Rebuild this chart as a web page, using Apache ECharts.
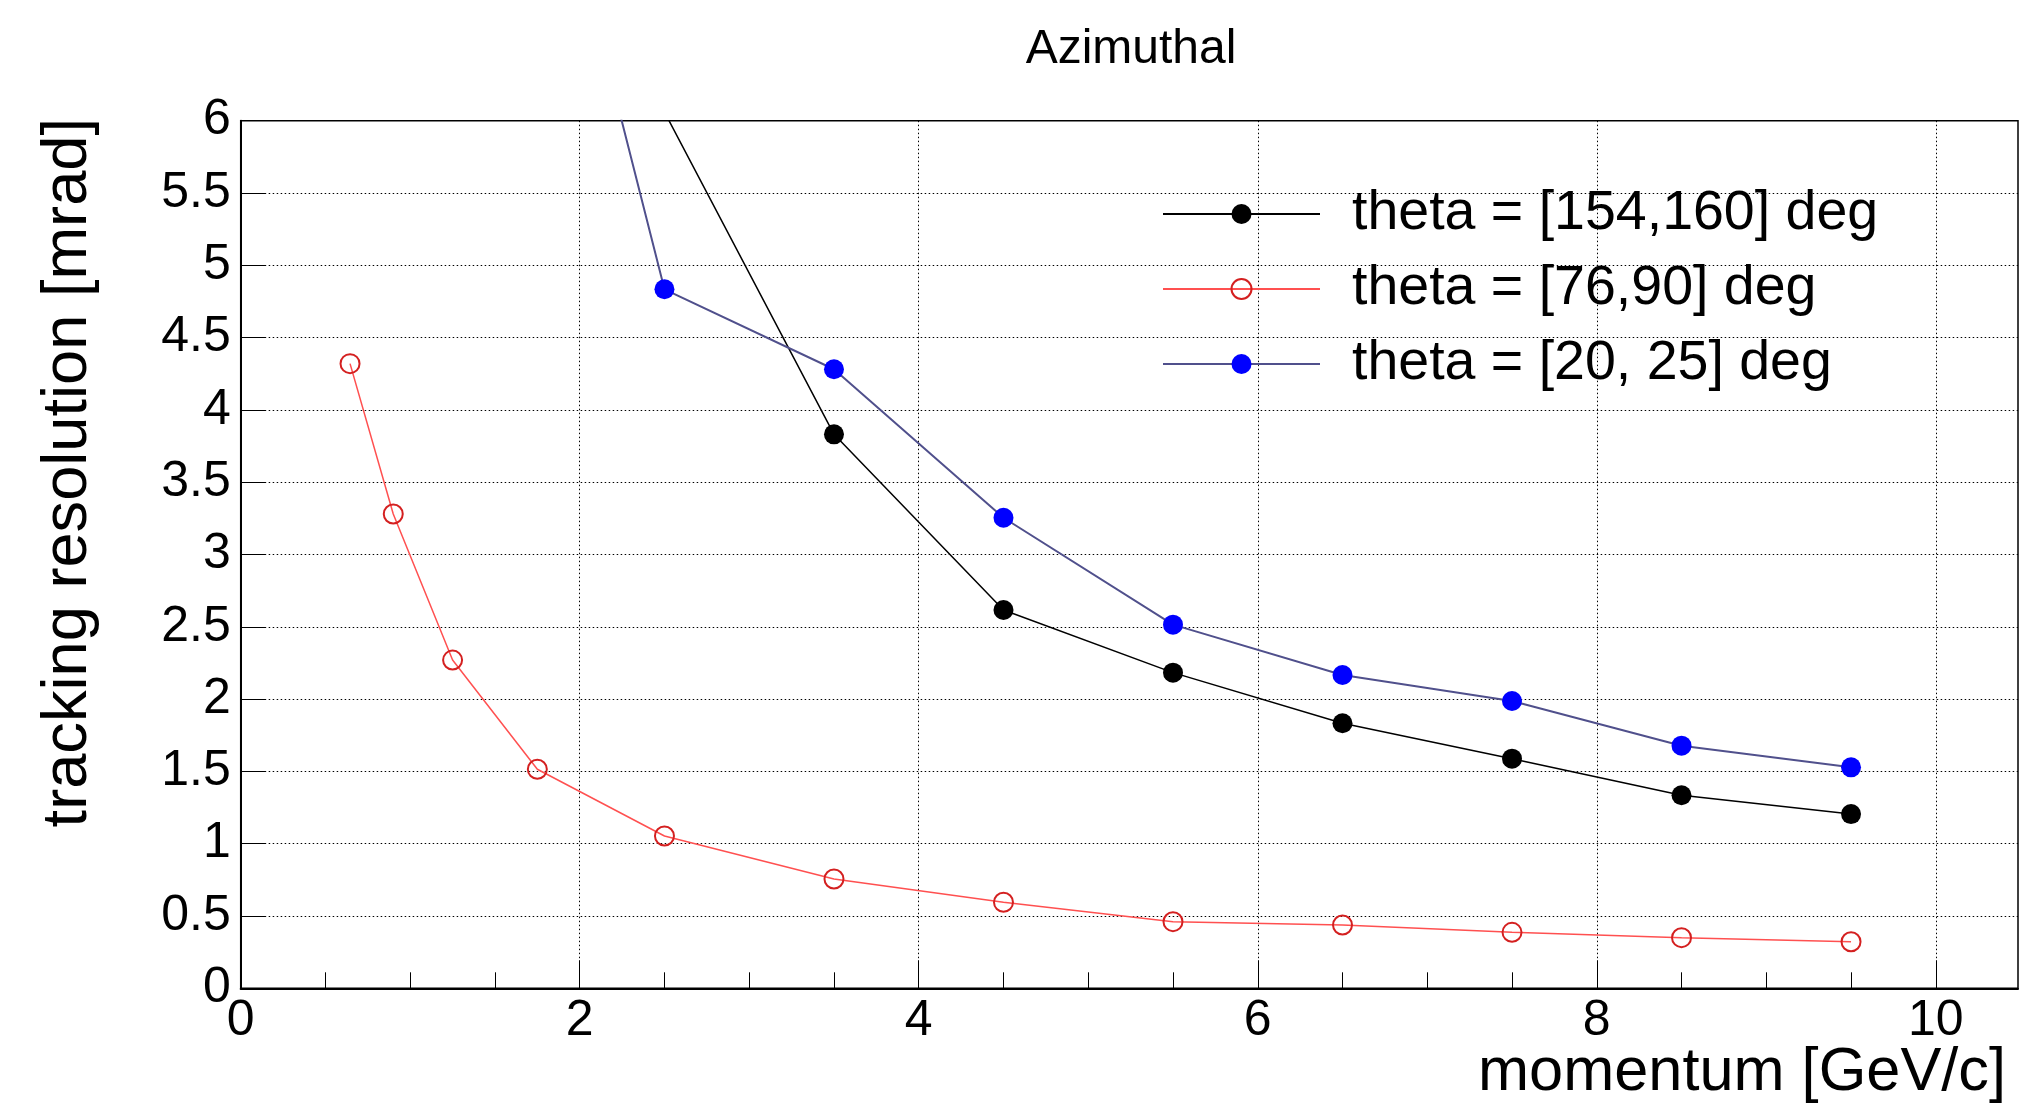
<!DOCTYPE html>
<html>
<head>
<meta charset="utf-8">
<script src="https://cdn.jsdelivr.net/npm/echarts@6/dist/echarts.min.js"></script>
<style>
html,body{margin:0;padding:0;background:#fff;}
#chart{width:2019px;height:1104px;}
</style>
</head>
<body>
<div id="chart"></div>
<script>
// ---- data ----
const titleText = 'Azimuthal';
const xTitle = 'momentum [GeV/c]';
const yTitle = 'tracking resolution [mrad]';

const seriesNames = ['theta = [154,160] deg', 'theta = [76,90] deg', 'theta = [20, 25] deg'];

const xBlack = [2.5, 3.5, 4.5, 5.5, 6.5, 7.5, 8.5, 9.5];
const yBlack = [6.06, 3.831, 2.616, 2.183, 1.833, 1.588, 1.335, 1.205];

const xRed = [0.645, 0.9, 1.25, 1.75, 2.5, 3.5, 4.5, 5.5, 6.5, 7.5, 8.5, 9.5];
const yRed = [4.32, 3.28, 2.27, 1.515, 1.053, 0.756, 0.595, 0.461, 0.438, 0.387, 0.350, 0.322];

const xBlue = [1.75, 2.5, 3.5, 4.5, 5.5, 6.5, 7.5, 8.5, 9.5];
const yBlue = [8.3, 4.834, 4.281, 3.254, 2.515, 2.167, 1.987, 1.678, 1.528];

const xMajorTicks = [0, 2, 4, 6, 8, 10];
const xMinorTicks = [0.5, 1, 1.5, 2.5, 3, 3.5, 4.5, 5, 5.5, 6.5, 7, 7.5, 8.5, 9, 9.5];
const xMin = 0, xMax = 10.485;
const yMin = 0, yMax = 6, yStep = 0.5;

// ---- chart ----
function pairs(xs, ys) { return xs.map((x, i) => [x, ys[i]]); }

const FONT = 'Liberation Sans, Arial, Helvetica, sans-serif';
const chart = echarts.init(document.getElementById('chart'), null, {renderer: 'canvas'});

const gridLine = {show: true, lineStyle: {color: '#000', width: 1, type: [1.5, 2.5]}};

const option = {
  animation: false,
  backgroundColor: '#fff',
  title: {
    text: titleText,
    left: 1126, top: 21, textAlign: 'center',
    textStyle: {fontFamily: FONT, fontSize: 48, fontWeight: 'normal', color: '#000'}
  },
  grid: {
    left: 240.7, right: 1, top: 120.7, bottom: 115.7,
    show: true, borderColor: '#000', borderWidth: 1.5, backgroundColor: 'transparent'
  },
  legend: {
    orient: 'vertical',
    left: 1157, top: 179,
    itemWidth: 157, itemHeight: 25, itemGap: 15,
    data: seriesNames,
    selectedMode: false,
    textStyle: {fontFamily: FONT, fontSize: 55.5, color: '#000', lineHeight: 60, padding: [0, 0, 0, 27]}
  },
  xAxis: [{
    type: 'value', min: xMin, max: xMax, interval: 2,
    axisLine: {show: true, lineStyle: {color: '#000', width: 2}},
    axisTick: {show: true, inside: true, length: 28, lineStyle: {color: '#000', width: 1}, customValues: xMajorTicks},
    axisLabel: {
      show: true, margin: 8, color: '#000', fontFamily: FONT, fontSize: 50,
      customValues: xMajorTicks,
      formatter: v => String(v)
    },
    splitLine: gridLine
  }, {
    type: 'value', min: xMin, max: xMax, interval: 0.5, position: 'bottom',
    axisLine: {show: false},
    axisTick: {show: true, inside: true, length: 16, lineStyle: {color: '#000', width: 1}, customValues: xMinorTicks},
    axisLabel: {show: false},
    splitLine: {show: false}
  }],
  yAxis: {
    type: 'value', min: yMin, max: yMax, interval: yStep,
    axisLine: {show: true, lineStyle: {color: '#000', width: 2}},
    axisTick: {show: true, inside: true, length: 25, lineStyle: {color: '#000', width: 1}},
    axisLabel: {show: true, margin: 10, color: '#000', fontFamily: FONT, fontSize: 50},
    splitLine: gridLine
  },
  graphic: [
    {
      type: 'text', x: 2006, y: 1073,
      style: {text: xTitle, fontFamily: FONT, fontSize: 61.3, fill: '#000', align: 'right', verticalAlign: 'middle'}
    },
    {
      type: 'text', x: 69, y: 118, rotation: Math.PI / 2,
      style: {text: yTitle, fontFamily: FONT, fontSize: 63.2, fill: '#000', align: 'right', verticalAlign: 'middle'}
    }
  ],
  series: [
    {
      name: seriesNames[0], type: 'line', data: pairs(xBlack, yBlack),
      symbol: 'circle', symbolSize: 20, showAllSymbol: true, clip: true,
      itemStyle: {color: '#000'},
      lineStyle: {color: '#000', width: 1.5}
    },
    {
      name: seriesNames[1], type: 'line', data: pairs(xRed, yRed),
      symbol: 'circle', symbolSize: 19, showAllSymbol: true, clip: true,
      itemStyle: {color: 'rgba(255,255,255,0)', borderColor: '#d42020', borderWidth: 2},
      lineStyle: {color: '#ff5050', width: 1.5}
    },
    {
      name: seriesNames[2], type: 'line', data: pairs(xBlue, yBlue),
      symbol: 'circle', symbolSize: 20, showAllSymbol: true, clip: true,
      itemStyle: {color: '#0000ff'},
      lineStyle: {color: '#50508c', width: 2}
    }
  ]
};
chart.setOption(option);
</script>
</body>
</html>
